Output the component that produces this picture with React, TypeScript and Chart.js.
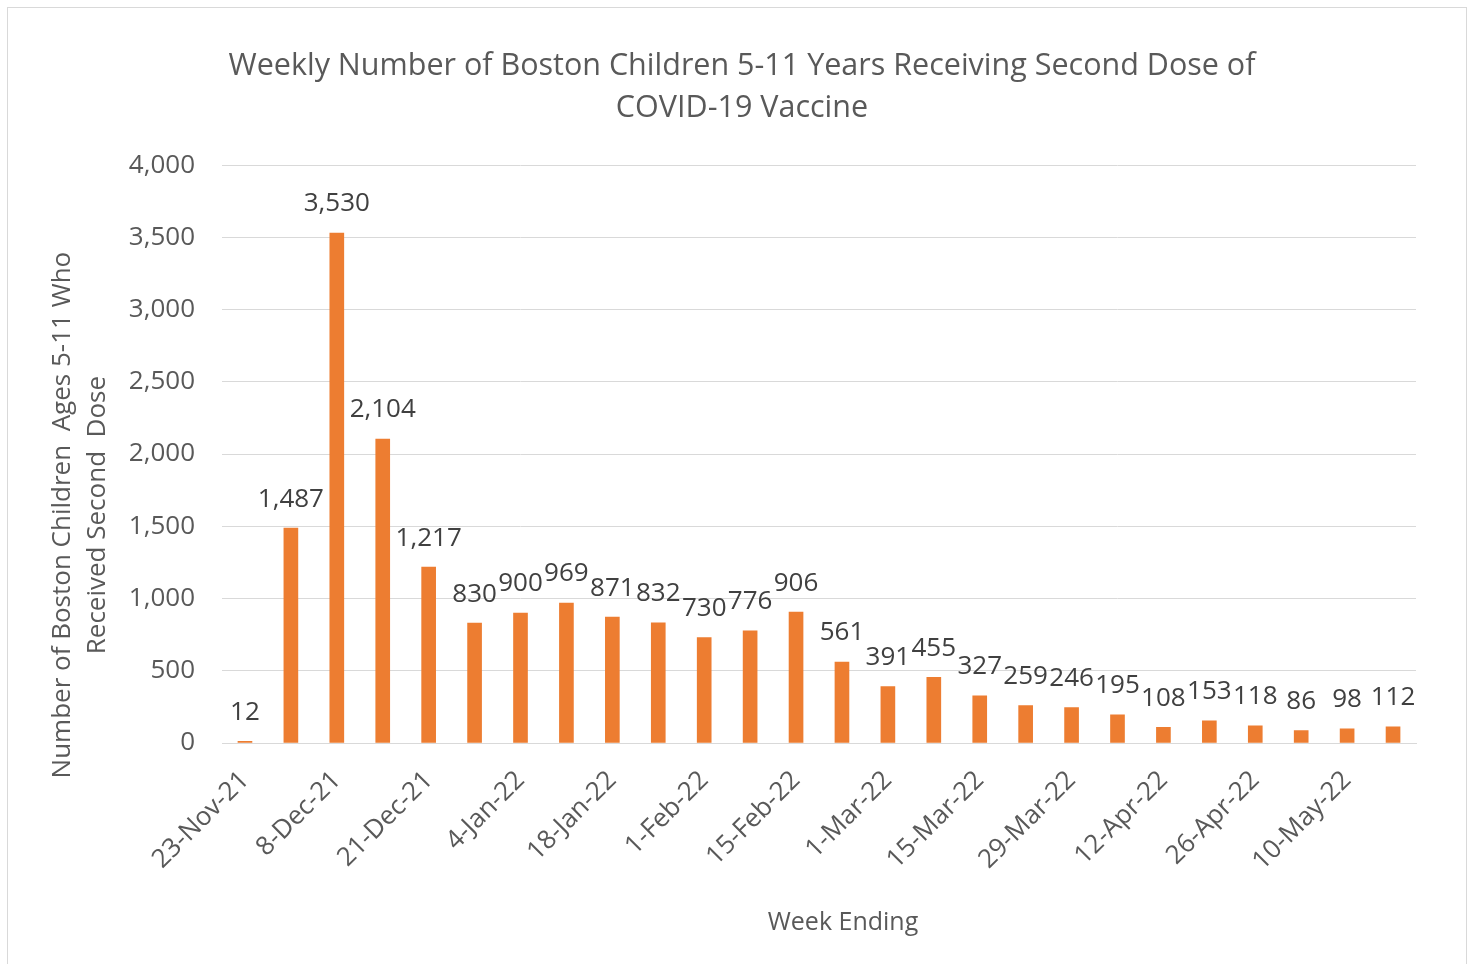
import { useEffect, useRef } from "react";
import { Chart, registerables } from "chart.js";

Chart.register(...registerables);

const weekEnding = [
  "23-Nov-21", "1-Dec-21", "8-Dec-21", "14-Dec-21", "21-Dec-21", "28-Dec-21",
  "4-Jan-22", "11-Jan-22", "18-Jan-22", "25-Jan-22", "1-Feb-22", "8-Feb-22",
  "15-Feb-22", "22-Feb-22", "1-Mar-22", "8-Mar-22", "15-Mar-22", "22-Mar-22",
  "29-Mar-22", "5-Apr-22", "12-Apr-22", "19-Apr-22", "26-Apr-22", "3-May-22",
  "10-May-22", "17-May-22",
];
const secondDoses = [
  12, 1487, 3530, 2104, 1217, 830, 900, 969, 871, 832, 730, 776, 906, 561,
  391, 455, 327, 259, 246, 195, 108, 153, 118, 86, 98, 112,
];
const yMin = 0;
const yMax = 4000;
const yStep = 500;
const chartTitle = [
  "Weekly Number of Boston Children 5-11 Years Receiving Second Dose of",
  "COVID-19 Vaccine",
];
const yAxisTitle = ["Number of Boston Children  Ages 5-11 Who", "Received Second  Dose"];
const xAxisTitle = "Week Ending";

const FONT = "'Open Sans', 'Noto Sans', sans-serif";
const TEXT = "#595959";
const LABEL = "#404040";
const GRID = "#d9d9d9";
const BAR = "#ED7D31";

const fmt = (v: number) => v.toLocaleString("en-US");

const dataLabels = {
  id: "dataLabels",
  afterDatasetsDraw(chart: any) {
    const { ctx } = chart;
    const meta = chart.getDatasetMeta(0);
    ctx.save();
    ctx.font = `26px ${FONT}`;
    ctx.fillStyle = LABEL;
    ctx.textAlign = "center";
    ctx.textBaseline = "middle";
    meta.data.forEach((bar: any, i: number) => {
      ctx.fillText(fmt(secondDoses[i]), bar.x, bar.y - 29);
    });
    ctx.restore();
  },
};

const axisTitles = {
  id: "axisTitles",
  afterDraw(chart: any) {
    const { ctx, chartArea } = chart;
    ctx.save();
    ctx.fillStyle = TEXT;
    ctx.textAlign = "center";
    ctx.textBaseline = "middle";
    // y-axis title (rotated)
    ctx.font = `26px ${FONT}`;
    const cy = (chartArea.top + chartArea.bottom) / 2 + 61;
    ctx.save();
    ctx.translate(chartArea.left - 159, cy);
    ctx.rotate(-Math.PI / 2);
    yAxisTitle.forEach((line, i) => ctx.fillText(line, 0, i * 35));
    ctx.restore();
    // x-axis title
    ctx.font = `25px ${FONT}`;
    ctx.fillText(xAxisTitle, (chartArea.left + chartArea.right) / 2 + 24, chartArea.bottom + 180);
    ctx.restore();
  },
};

export default function App() {
  const ref = useRef<HTMLCanvasElement>(null);

  useEffect(() => {
    document.body.style.overflow = "hidden";
    const chart = new Chart(ref.current!, {
      type: "bar",
      data: {
        labels: weekEnding,
        datasets: [
          {
            data: secondDoses,
            backgroundColor: BAR,
            barThickness: 14,
          },
        ],
      },
      options: {
        responsive: false,
        animation: false,
        layout: { padding: { left: 60, right: 50, top: 0, bottom: 0 } },
        plugins: {
          legend: { display: false },
          tooltip: { enabled: false },
          title: {
            display: true,
            text: chartTitle,
            color: TEXT,
            font: { family: FONT, size: 30.5, weight: "normal", lineHeight: 1.38 },
            padding: { top: 37, bottom: 36 },
          },
        },
        scales: {
          x: {
            grid: { display: false },
            border: { display: true, color: GRID, width: 1 },
            ticks: {
              autoSkip: false,
              minRotation: 45,
              maxRotation: 45,
              padding: 14,
              color: TEXT,
              font: { family: FONT, size: 26 },
              callback: (_v: any, i: number) => (i % 2 === 0 ? weekEnding[i] : ""),
            },
            afterFit: (scale: any) => {
              scale.height = 223;
            },
          },
          y: {
            min: yMin,
            max: yMax,
            ticks: {
              stepSize: yStep,
              padding: 27,
              color: TEXT,
              font: { family: FONT, size: 26 },
              callback: (v: any) => fmt(Number(v)),
            },
            grid: { color: GRID, lineWidth: 1, drawTicks: false },
            border: { display: false },
            afterFit: (scale: any) => {
              scale.width = 154;
            },
          },
        },
      },
      plugins: [dataLabels, axisTitles],
    });
    return () => chart.destroy();
  }, []);

  return (
    <div
      style={{
        position: "absolute",
        left: 7,
        top: 7,
        width: 1458,
        height: 958,
        border: "1px solid #d9d9d9",
        background: "#fff",
      }}
    >
      <canvas ref={ref} width={1458} height={958} style={{ display: "block" }} />
    </div>
  );
}
